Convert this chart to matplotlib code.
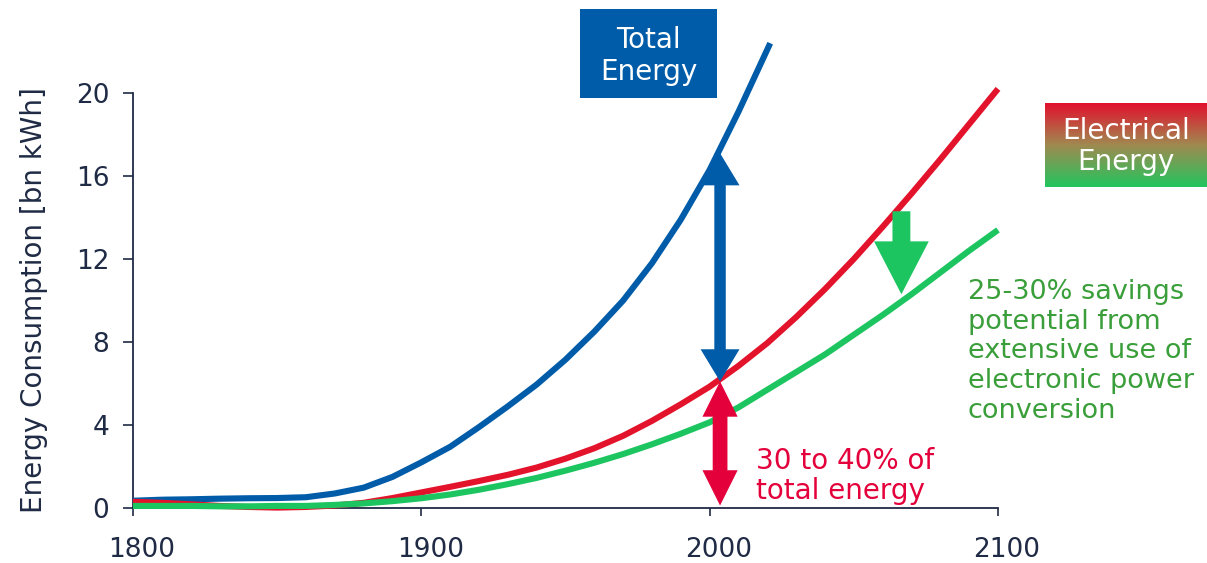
import numpy as np
import matplotlib
matplotlib.use("Agg")
import matplotlib.pyplot as plt
import matplotlib.transforms as mtransforms
from matplotlib.patches import Rectangle

# ---- data -------------------------------------------------------------
total_years = [1800, 1810, 1820, 1830, 1840, 1850, 1860, 1870, 1880, 1890,
               1900, 1910, 1920, 1930, 1940, 1950, 1960, 1970, 1980, 1990,
               2000, 2010, 2021]
total_energy = [0.35, 0.40, 0.42, 0.45, 0.47, 0.48, 0.52, 0.70, 0.98, 1.50,
                2.20, 2.95, 3.90, 4.90, 5.95, 7.15, 8.50, 10.0, 11.8, 13.9,
                16.3, 19.1, 22.4]

elec_years = list(range(1800, 2101, 10))
electrical_energy = [0.30, 0.25, 0.18, 0.10, 0.05, 0.02, 0.05, 0.12, 0.25, 0.48,
                     0.75, 1.02, 1.30, 1.60, 1.95, 2.38, 2.88, 3.48, 4.20, 5.00,
                     5.85, 6.85, 7.95, 9.20, 10.55, 12.0, 13.55, 15.15, 16.8,
                     18.5, 20.2]
saved_electrical = [0.10, 0.10, 0.10, 0.08, 0.08, 0.10, 0.10, 0.15, 0.22, 0.33,
                    0.47, 0.65, 0.88, 1.15, 1.45, 1.80, 2.18, 2.60, 3.07, 3.58,
                    4.13, 4.85, 5.70, 6.55, 7.40, 8.35, 9.30, 10.3, 11.35,
                    12.4, 13.4]

x_ticks = [1800, 1900, 2000, 2100]
y_ticks = [0, 4, 8, 12, 16, 20]

# arrow annotations (year, low value, high value)
gap_year = 2003.6
total_at_gap = 17.1
elec_at_gap = 6.1
saving_year = 2066.5
saving_from, saving_to = 14.3, 10.3

# ---- colours ----------------------------------------------------------
NAVY = "#1f2a44"
BLUE = "#005ca9"
RED = "#e3132c"
RED_ARROW = "#e4003a"
GREEN = "#1dc561"
GREEN_TEXT = "#3a9e3a"

FONT = "DejaVu Sans"
FS_TICK = 19
FS = 20

fig = plt.figure(figsize=(12.07, 5.63), dpi=100)
ax = fig.add_axes([133 / 1207, 55 / 563, 865 / 1207, 415 / 563])

ax.plot(total_years, total_energy, color=BLUE, lw=4.4, clip_on=False,
        solid_capstyle="butt", solid_joinstyle="round", zorder=3)
ax.plot(elec_years, electrical_energy, color=RED, lw=4.4, clip_on=False,
        solid_capstyle="butt", solid_joinstyle="round", zorder=3)
ax.plot(elec_years, saved_electrical, color=GREEN, lw=4.4, clip_on=False,
        solid_capstyle="butt", solid_joinstyle="round", zorder=3)

ax.set_xlim(1800, 2100)
ax.set_ylim(0, 20)
ax.set_xticks(x_ticks)
ax.set_yticks(y_ticks)
for s in ("top", "right"):
    ax.spines[s].set_visible(False)
for s in ("left", "bottom"):
    ax.spines[s].set_color(NAVY)
    ax.spines[s].set_linewidth(1.3)
ax.tick_params(axis="y", direction="out", length=7, width=1.2, colors=NAVY,
               pad=10, labelsize=FS_TICK)
ax.tick_params(axis="x", direction="out", length=6, width=1.2, colors=NAVY,
               pad=15, labelsize=FS_TICK)
# year labels sit slightly right of their ticks
shift = mtransforms.ScaledTranslation(6.5 / 72, 0, fig.dpi_scale_trans)
for lab in ax.get_xticklabels():
    lab.set_transform(lab.get_transform() + shift)
for lab in ax.get_xticklabels() + ax.get_yticklabels():
    lab.set_fontfamily(FONT)
ax.set_ylabel("Energy Consumption [bn kWh]", fontsize=FS, color=NAVY,
              family=FONT, labelpad=20)


def double_arrow(x, y0, y1, color, shaft, head_w, head_l):
    # each arrow starts at the other's head base so the shafts overlap
    sign = 1 if y1 > y0 else -1
    for start, end in ((y0 + sign * head_l, y1), (y1 - sign * head_l, y0)):
        ax.arrow(x, start, 0, end - start, width=shaft, head_width=head_w,
                 head_length=head_l, length_includes_head=True, color=color,
                 lw=0, clip_on=False, zorder=5)


# gap between total and electrical energy
double_arrow(gap_year, elec_at_gap, total_at_gap, BLUE, 3.8, 13.5, 1.55)
# electrical share of total energy
double_arrow(gap_year, 0.12, elec_at_gap, RED_ARROW, 5.0, 12.2, 1.7)
# savings arrow
ax.arrow(saving_year, saving_from, 0, saving_to - saving_from, width=6.2,
         head_width=19, head_length=2.55, length_includes_head=True,
         color=GREEN, lw=0, clip_on=False, zorder=5)

ax.text(2016.2, 1.55, "30 to 40% of\ntotal energy", color=RED_ARROW,
        fontsize=FS, family=FONT, ha="left", va="center", linespacing=1.1)
ax.text(2089.5, 7.55, "25-30% savings\npotential from\nextensive use of\n"
        "electronic power\nconversion", color=GREEN_TEXT, fontsize=19.5,
        family=FONT, ha="left", va="center", linespacing=1.18, clip_on=False)

# "Total Energy" label box
fig.patches.append(Rectangle((580 / 1207, 1 - 98 / 563), 137 / 1207, 89 / 563,
                             transform=fig.transFigure, facecolor=BLUE,
                             edgecolor="none", zorder=6))
fig.text(648.5 / 1207, 1 - 56 / 563, "Total\nEnergy", color="white",
         fontsize=FS, family=FONT, ha="center", va="center",
         linespacing=1.15, zorder=7)

# "Electrical Energy" label box with red-to-green gradient
bax = fig.add_axes([1045 / 1207, 1 - 187 / 563, 162 / 1207, 84 / 563])
grad = np.linspace(0, 1, 256).reshape(-1, 1)
cmap = matplotlib.colors.LinearSegmentedColormap.from_list(
    "rg", ["#e2102e", "#a08a50", "#22c55e"])
bax.imshow(grad, aspect="auto", cmap=cmap, extent=[0, 1, 0, 1], origin="upper")
bax.set_axis_off()
bax.text(0.5, 0.48, "Electrical\nEnergy", color="white", fontsize=FS,
         family=FONT, ha="center", va="center", linespacing=1.15,
         transform=bax.transAxes)

fig.savefig("out.png", dpi=100)
